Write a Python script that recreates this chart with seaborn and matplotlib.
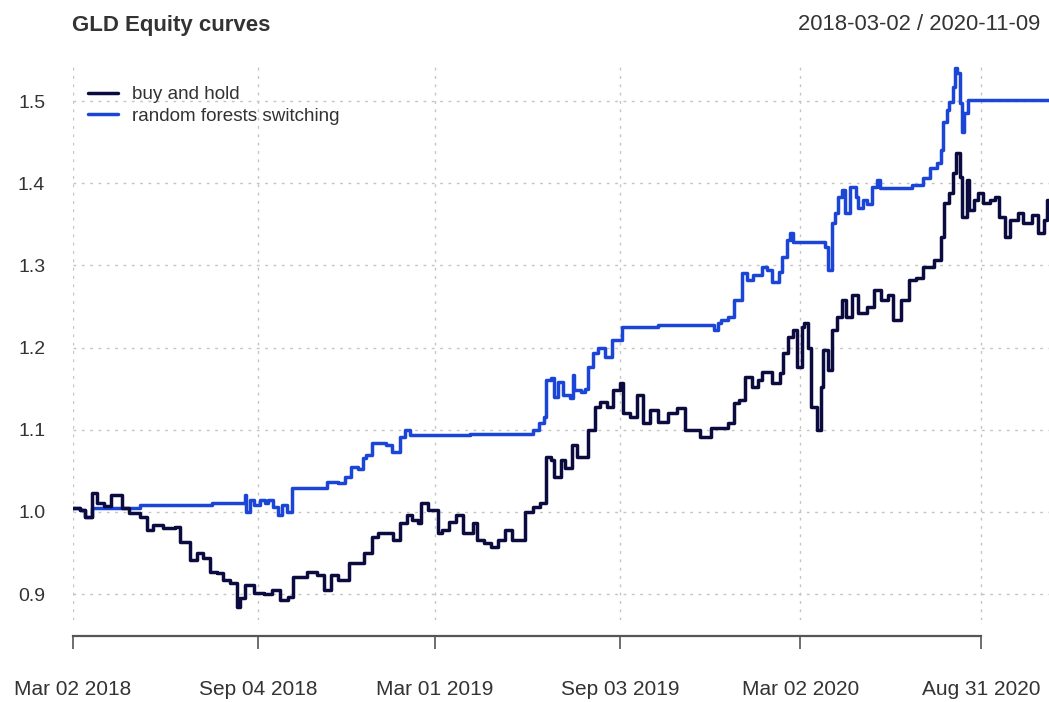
"""Equity curves of GLD: buy and hold versus random forests switching."""
import matplotlib
matplotlib.use('Agg')
import matplotlib.dates as mdates
import pandas as pd
import seaborn as sns
from matplotlib import pyplot as plt
from matplotlib.lines import Line2D


DPI = 100
FIGURE_SIZE = (10.49, 7.02)

# buy and hold equity
BH_DATES = [
    '2018-03-02', '2018-03-09', '2018-03-14', '2018-03-21', '2018-03-26',
    '2018-04-02', '2018-04-09', '2018-04-16', '2018-04-20', '2018-04-27',
    '2018-05-08', '2018-05-15', '2018-05-21', '2018-05-31', '2018-06-13',
    '2018-06-18', '2018-06-28', '2018-07-05', '2018-07-11', '2018-07-18',
    '2018-07-25', '2018-07-31', '2018-08-07', '2018-08-14', '2018-08-17',
    '2018-08-22', '2018-08-31', '2018-09-10', '2018-09-18', '2018-09-26',
    '2018-10-04', '2018-10-09', '2018-10-23', '2018-11-02', '2018-11-09',
    '2018-11-16', '2018-11-23', '2018-12-04', '2018-12-13', '2018-12-19',
    '2018-12-28', '2019-01-03', '2019-01-11', '2019-01-18', '2019-01-25',
    '2019-02-01', '2019-02-06', '2019-02-12', '2019-02-15', '2019-02-22',
    '2019-03-04', '2019-03-08', '2019-03-15', '2019-03-22', '2019-03-29',
    '2019-04-08', '2019-04-12', '2019-04-19', '2019-04-26', '2019-05-03',
    '2019-05-10', '2019-05-17', '2019-05-27', '2019-05-30', '2019-06-07',
    '2019-06-14', '2019-06-20', '2019-06-25', '2019-06-28', '2019-07-05',
    '2019-07-10', '2019-07-17', '2019-07-22', '2019-07-29', '2019-08-02',
    '2019-08-09', '2019-08-14', '2019-08-21', '2019-08-27', '2019-09-03',
    '2019-09-06', '2019-09-13', '2019-09-20', '2019-09-26', '2019-10-03',
    '2019-10-11', '2019-10-21', '2019-10-30', '2019-11-07', '2019-11-15',
    '2019-11-22', '2019-12-03', '2019-12-11', '2019-12-20', '2019-12-26',
    '2019-12-31', '2020-01-06', '2020-01-13', '2020-01-20', '2020-01-24',
    '2020-02-03', '2020-02-11', '2020-02-14', '2020-02-19', '2020-02-24',
    '2020-02-28', '2020-03-04', '2020-03-06', '2020-03-10', '2020-03-13',
    '2020-03-19', '2020-03-23', '2020-03-25', '2020-03-30', '2020-04-03',
    '2020-04-08', '2020-04-13', '2020-04-17', '2020-04-23', '2020-04-29',
    '2020-05-08', '2020-05-15', '2020-05-22', '2020-05-29', '2020-06-03',
    '2020-06-11', '2020-06-19', '2020-06-26', '2020-07-03', '2020-07-14',
    '2020-07-21', '2020-07-24', '2020-07-29', '2020-08-03', '2020-08-06',
    '2020-08-10', '2020-08-12', '2020-08-17', '2020-08-19', '2020-08-24',
    '2020-08-28', '2020-09-02', '2020-09-09', '2020-09-14', '2020-09-18',
    '2020-09-24', '2020-09-29', '2020-10-07', '2020-10-12', '2020-10-21',
    '2020-10-27', '2020-11-02', '2020-11-05', '2020-11-09',
]
BH_VALUES = [
    1.005, 1.002, 0.994, 1.023, 1.011,
    1.007, 1.021, 1.021, 1.005, 0.999,
    0.994, 0.978, 0.984, 0.980, 0.982,
    0.964, 0.942, 0.950, 0.944, 0.927,
    0.926, 0.917, 0.914, 0.884, 0.895,
    0.911, 0.901, 0.900, 0.905, 0.893,
    0.897, 0.921, 0.927, 0.923, 0.905,
    0.923, 0.917, 0.938, 0.938, 0.950,
    0.970, 0.974, 0.974, 0.966, 0.987,
    0.996, 0.990, 0.987, 1.011, 1.002,
    0.974, 0.978, 0.988, 0.996, 0.974,
    0.987, 0.966, 0.962, 0.957, 0.966,
    0.978, 0.966, 0.966, 1.000, 1.006,
    1.011, 1.067, 1.063, 1.043, 1.063,
    1.054, 1.082, 1.067, 1.067, 1.100,
    1.128, 1.134, 1.128, 1.148, 1.157,
    1.120, 1.116, 1.142, 1.108, 1.124,
    1.109, 1.120, 1.126, 1.100, 1.100,
    1.091, 1.102, 1.102, 1.108, 1.133,
    1.136, 1.164, 1.152, 1.161, 1.170,
    1.157, 1.169, 1.193, 1.213, 1.221,
    1.176, 1.225, 1.230, 1.200, 1.128,
    1.100, 1.152, 1.197, 1.173, 1.221,
    1.237, 1.258, 1.237, 1.264, 1.242,
    1.249, 1.270, 1.258, 1.264, 1.234,
    1.258, 1.282, 1.285, 1.298, 1.307,
    1.335, 1.376, 1.388, 1.412, 1.437,
    1.408, 1.359, 1.404, 1.367, 1.380,
    1.388, 1.376, 1.380, 1.383, 1.359,
    1.335, 1.355, 1.364, 1.352, 1.361,
    1.339, 1.355, 1.380, 1.345,
]

# random forests switching equity
RF_DATES = [
    '2018-03-02', '2018-03-09', '2018-03-14', '2018-03-21', '2018-05-08',
    '2018-07-20', '2018-08-22', '2018-08-23', '2018-08-27', '2018-08-31',
    '2018-09-06', '2018-09-11', '2018-09-14', '2018-09-19', '2018-09-24',
    '2018-09-28', '2018-10-03', '2018-10-08', '2018-11-12', '2018-11-23',
    '2018-11-30', '2018-12-06', '2018-12-13', '2018-12-18', '2018-12-21',
    '2018-12-28', '2019-01-11', '2019-01-17', '2019-01-25', '2019-01-30',
    '2019-02-04', '2019-04-05', '2019-06-07', '2019-06-13', '2019-06-18',
    '2019-06-20', '2019-06-25', '2019-06-28', '2019-07-02', '2019-07-08',
    '2019-07-15', '2019-07-18', '2019-07-19', '2019-07-26', '2019-07-30',
    '2019-08-02', '2019-08-07', '2019-08-12', '2019-08-19', '2019-08-26',
    '2019-09-05', '2019-10-11', '2019-12-06', '2019-12-10', '2019-12-13',
    '2019-12-20', '2019-12-26', '2020-01-03', '2020-01-08', '2020-01-14',
    '2020-01-24', '2020-01-29', '2020-02-03', '2020-02-10', '2020-02-13',
    '2020-02-18', '2020-02-21', '2020-02-24', '2020-03-27', '2020-03-30',
    '2020-04-03', '2020-04-06', '2020-04-09', '2020-04-13', '2020-04-16',
    '2020-04-21', '2020-04-27', '2020-04-29', '2020-05-04', '2020-05-08',
    '2020-05-13', '2020-05-18', '2020-05-21', '2020-06-22', '2020-07-03',
    '2020-07-10', '2020-07-17', '2020-07-21', '2020-07-23', '2020-07-27',
    '2020-07-29', '2020-08-03', '2020-08-05', '2020-08-07', '2020-08-10',
    '2020-08-12', '2020-08-14', '2020-08-18', '2020-11-09',
]
RF_VALUES = [
    1.005, 1.002, 0.994, 1.005, 1.008,
    1.011, 1.021, 1.000, 1.015, 1.008,
    1.015, 1.011, 1.015, 1.006, 0.996,
    1.008, 1.000, 1.029, 1.037, 1.035,
    1.043, 1.055, 1.052, 1.066, 1.069,
    1.084, 1.082, 1.073, 1.091, 1.100,
    1.094, 1.095, 1.100, 1.108, 1.116,
    1.161, 1.163, 1.140, 1.158, 1.142,
    1.139, 1.167, 1.148, 1.146, 1.150,
    1.176, 1.193, 1.200, 1.189, 1.209,
    1.225, 1.227, 1.222, 1.230, 1.234,
    1.237, 1.258, 1.291, 1.282, 1.288,
    1.298, 1.295, 1.280, 1.292, 1.310,
    1.331, 1.339, 1.329, 1.322, 1.294,
    1.352, 1.364, 1.383, 1.392, 1.364,
    1.395, 1.383, 1.370, 1.380, 1.375,
    1.395, 1.404, 1.394, 1.398, 1.406,
    1.418, 1.424, 1.440, 1.474, 1.489,
    1.499, 1.517, 1.540, 1.534, 1.498,
    1.462, 1.485, 1.501, 1.501,
]

SERIES_NAMES = ['buy and hold', 'random forests switching']
SERIES_COLORS = ['#0b0b40', '#1a45d6']

TICK_DATES = ['2018-03-02', '2018-09-04', '2019-03-01',
              '2019-09-03', '2020-03-02', '2020-08-31']
TICK_LABELS = ['Mar 02 2018', 'Sep 04 2018', 'Mar 01 2019',
               'Sep 03 2019', 'Mar 02 2020', 'Aug 31 2020']
Y_TICKS = [0.9, 1.0, 1.1, 1.2, 1.3, 1.4, 1.5]

START, END = '2018-03-02', '2020-11-09'
TEXT_COLOR = '#333333'
AXIS_COLOR = '#555555'
LINE_WIDTH = 2.5

sns.set_style('white')
plt.rcParams['font.family'] = ['Liberation Sans', 'DejaVu Sans']

bh = pd.DataFrame({'date': pd.to_datetime(BH_DATES), 'equity': BH_VALUES})
rf = pd.DataFrame({'date': pd.to_datetime(RF_DATES), 'equity': RF_VALUES})

fig = plt.figure(figsize=FIGURE_SIZE, dpi=DPI)
ax = fig.add_axes([73 / 1049, 82 / 702, 978 / 1049, 554 / 702])

# switching curve first, buy and hold sits on top where they coincide
sns.lineplot(data=rf, x='date', y='equity', ax=ax, color=SERIES_COLORS[1],
             linewidth=LINE_WIDTH, drawstyle='steps-post', estimator=None)
sns.lineplot(data=bh, x='date', y='equity', ax=ax, color=SERIES_COLORS[0],
             linewidth=LINE_WIDTH, drawstyle='steps-post', estimator=None)

ax.set_xlim(pd.Timestamp(START), pd.Timestamp(END))
ax.set_ylim(0.8686, 1.5426)
ax.set(xlabel='', ylabel='')

ax.set_xticks(pd.to_datetime(TICK_DATES))
ax.set_xticklabels(TICK_LABELS)
ax.set_yticks(Y_TICKS)
ax.set_yticklabels(['{:.1f}'.format(v) for v in Y_TICKS])

ax.tick_params(axis='x', bottom=True, length=9.5, width=1.2,
               color=AXIS_COLOR, direction='out', pad=22, labelsize=15,
               labelcolor=TEXT_COLOR)
ax.tick_params(axis='y', left=False, length=0, pad=20, labelsize=14,
               labelcolor=TEXT_COLOR)

ax.grid(True, color='#c4c4c4', linestyle=(0, (2, 4)), linewidth=1.0)

# xts style axis: only a detached bottom line that stops at the last tick
for side in ['top', 'right', 'left']:
    ax.spines[side].set_visible(False)
bottom = ax.spines['bottom']
bottom.set_position(('outward', 11.5))
bottom.set_bounds(mdates.date2num(pd.Timestamp(TICK_DATES[0])),
                  mdates.date2num(pd.Timestamp(TICK_DATES[-1])))
bottom.set_color(AXIS_COLOR)
bottom.set_linewidth(1.6)

handles = [Line2D([], [], color=c, linewidth=LINE_WIDTH)
           for c in SERIES_COLORS]
leg = ax.legend(handles, SERIES_NAMES, loc='upper left',
                bbox_to_anchor=(88 / 1049, 1 - 86 / 702),
                bbox_transform=fig.transFigure, frameon=False,
                fontsize=13.6, handlelength=1.6, handletextpad=0.75,
                labelspacing=0.22, borderpad=0, borderaxespad=0)
for text in leg.get_texts():
    text.set_color(TEXT_COLOR)

fig.text(72 / 1049, 1 - 25 / 702, 'GLD Equity curves', ha='left',
         va='center', fontsize=16, fontweight='bold', color=TEXT_COLOR)
fig.text(1040 / 1049, 1 - 25 / 702, '{} / {}'.format(START, END),
         ha='right', va='center', fontsize=15.8, color=TEXT_COLOR)

fig.savefig('out.png', dpi=DPI)
